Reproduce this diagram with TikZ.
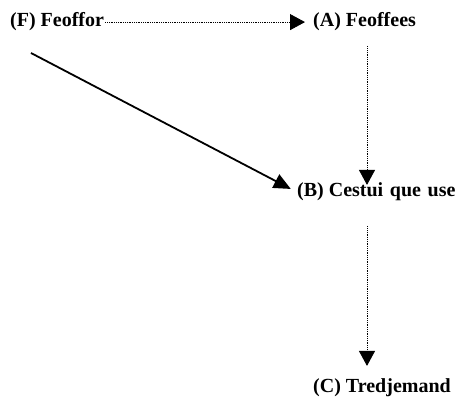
\documentclass[tikz,border=0pt]{standalone}
\usepackage{fontspec}
\setmainfont{Liberation Serif}
\usetikzlibrary{arrows.meta}
\begin{document}
\begin{tikzpicture}[x=1pt,y=-1pt,
  party/.style={font=\bfseries\fontsize{20}{24}\selectfont, inner sep=0pt, anchor=base west},
  dotlink/.style={line width=0.9pt, dash pattern=on 0.9pt off 0.9pt, -{Triangle[length=15pt,width=16pt]}},
  solidlink/.style={line width=1.8pt, -{Triangle[length=17pt,width=15pt]}}]
  \useasboundingbox (0,0) rectangle (467,398);
  \node[party] (F) at (10,27) {(F) Feoffor};
  \node[party] (A) at (313,27) {(A) Feoffees};
  \node[party] (B) at (297,197) {(B) Cestui\,\,que\,\,use};
  \node[party] (C) at (313,393) {(C) Tredjemand};
  \coordinate (fs) at (31,53);
  \coordinate (ax) at (367,0);
  % conveyance to the feoffees
  \draw[dotlink, shorten <=1pt, shorten >=8pt] (F.east) -- (A.west |- F.east);
  % direct line from the feoffor to the cestui que use
  \draw[solidlink, shorten >=7pt] (fs) -- (B.west);
  % feoffees to cestui que use, then on to the third party
  \draw[dotlink, shorten <=15pt, shorten >=-2pt] (ax |- A.south) -- (ax |- B.north);
  \draw[dotlink, shorten <=25pt, shorten >=13pt] (ax |- B.south) -- (ax |- C.north);
\end{tikzpicture}
\end{document}
